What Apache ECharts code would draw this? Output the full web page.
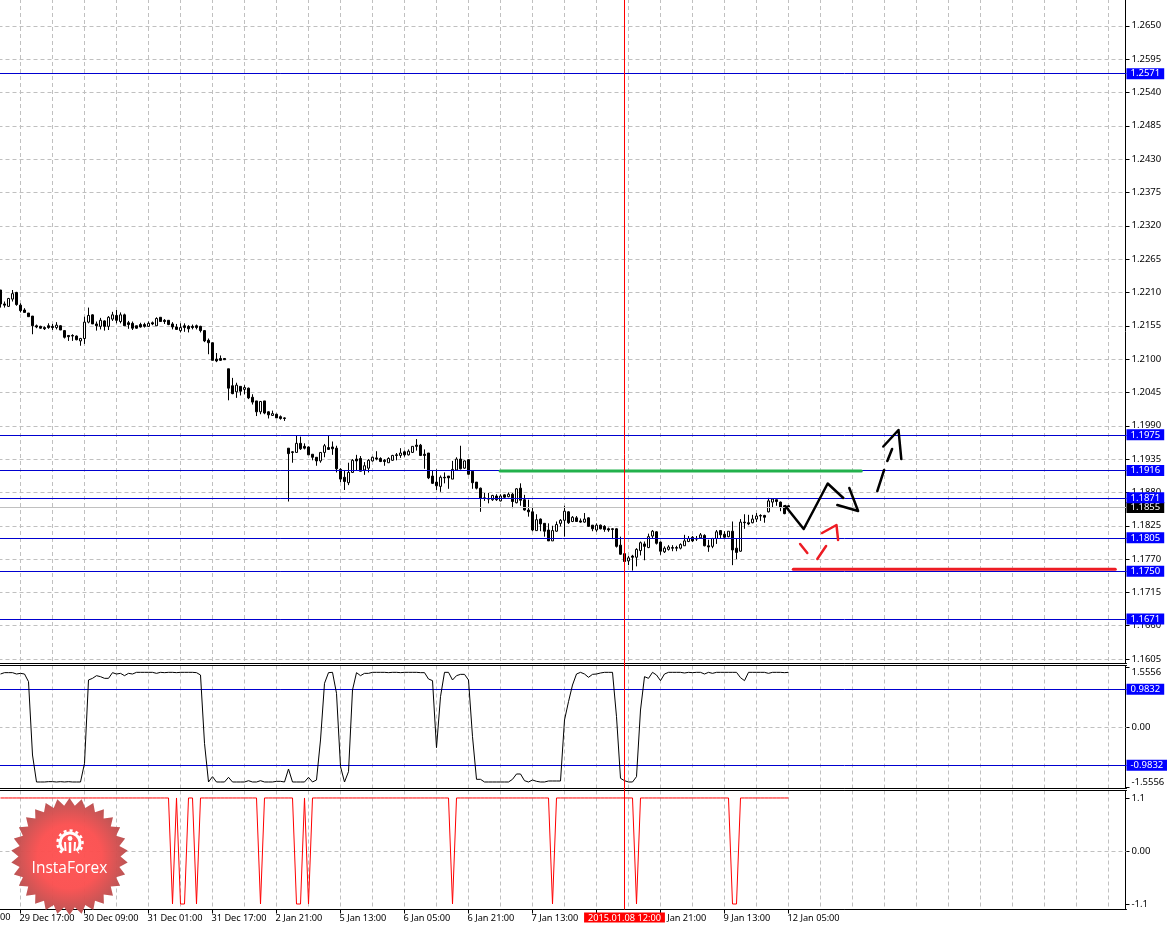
<!DOCTYPE html>
<html><head><meta charset="utf-8">
<style>html,body{margin:0;padding:0;background:#fff;overflow:hidden}#c{width:1167px;height:927px}</style>
<script src="https://cdn.jsdelivr.net/npm/echarts@6/dist/echarts.min.js"></script>
</head><body><div id="c"></div>
<script>
// candle rows: [open, close, low, high], one row per bar, hourly
const candlesDec = [
[1.2214,1.2191,1.2185,1.2214],[1.2191,1.2189,1.2185,1.2195],[1.2187,1.2200,1.2186,1.2201],[1.2199,1.2208,1.2195,1.2214],[1.2210,1.2190,1.2188,1.2211],
[1.2189,1.2180,1.2177,1.2192],[1.2181,1.2177,1.2177,1.2184],[1.2176,1.2170,1.2170,1.2176],[1.2171,1.2155,1.2141,1.2171],[1.2155,1.2153,1.2151,1.2157],
[1.2154,1.2151,1.2150,1.2155],[1.2152,1.2150,1.2148,1.2154],[1.2155,1.2152,1.2150,1.2159],[1.2154,1.2152,1.2148,1.2158],[1.2152,1.2156,1.2149,1.2161],
[1.2155,1.2148,1.2148,1.2156],[1.2147,1.2136,1.2134,1.2148],[1.2139,1.2137,1.2130,1.2139],[1.2139,1.2138,1.2130,1.2141],[1.2138,1.2132,1.2131,1.2139],
[1.2130,1.2134,1.2122,1.2135],[1.2134,1.2161,1.2125,1.2170],[1.2161,1.2172,1.2159,1.2185],[1.2173,1.2158,1.2158,1.2174],[1.2158,1.2155,1.2147,1.2162],
[1.2154,1.2164,1.2149,1.2168],[1.2163,1.2154,1.2147,1.2164],[1.2154,1.2169,1.2148,1.2171],[1.2166,1.2173,1.2163,1.2178],[1.2172,1.2164,1.2159,1.2181],
[1.2162,1.2173,1.2159,1.2177],[1.2173,1.2155,1.2155,1.2175],[1.2160,1.2157,1.2150,1.2163],[1.2159,1.2151,1.2148,1.2162],[1.2155,1.2151,1.2150,1.2155],
[1.2157,1.2153,1.2152,1.2160],[1.2157,1.2154,1.2152,1.2160],[1.2154,1.2159,1.2153,1.2162],[1.2160,1.2158,1.2156,1.2162],[1.2155,1.2167,1.2155,1.2169],
[1.2169,1.2162,1.2162,1.2169],[1.2164,1.2162,1.2158,1.2166],[1.2164,1.2157,1.2156,1.2164],[1.2158,1.2153,1.2149,1.2161],[1.2153,1.2149,1.2148,1.2158],
[1.2147,1.2152,1.2144,1.2159],[1.2155,1.2152,1.2145,1.2159],[1.2154,1.2150,1.2144,1.2156],[1.2154,1.2152,1.2149,1.2157],[1.2155,1.2152,1.2149,1.2157],
[1.2154,1.2147,1.2144,1.2155],[1.2147,1.2130,1.2128,1.2148],[1.2131,1.2127,1.2108,1.2134],[1.2127,1.2098,1.2098,1.2127],[1.2100,1.2097,1.2095,1.2110],
[1.2101,1.2098,1.2097,1.2106],[1.2101,1.2099,1.2099,1.2101],[1.2084,1.2052,1.2032,1.2084],[1.2056,1.2043,1.2042,1.2069],[1.2046,1.2057,1.2036,1.2061],
[1.2055,1.2047,1.2040,1.2055],[1.2050,1.2053,1.2042,1.2057],[1.2052,1.2036,1.2034,1.2053],[1.2037,1.2029,1.2025,1.2042],[1.2031,1.2013,1.2006,1.2031],
[1.2013,1.2030,1.2009,1.2031],[1.2031,1.2011,1.2009,1.2031],[1.2013,1.2008,1.2002,1.2014],[1.2007,1.2010,1.2007,1.2015],[1.2009,1.2003,1.2003,1.2010],
[1.2005,1.2002,1.2000,1.2007],[1.2003,1.2002,1.1998,1.2004]
];
const candlesJanA = [
[1.1953,1.1944,1.1865,1.1953],[1.1947,1.1946,1.1929,1.1948],[1.1946,1.1961,1.1946,1.1974],[1.1961,1.1952,1.1950,1.1972],[1.1956,1.1953,1.1951,1.1961],
[1.1955,1.1942,1.1942,1.1956],[1.1943,1.1938,1.1933,1.1943],[1.1938,1.1932,1.1924,1.1938],[1.1932,1.1946,1.1929,1.1946],[1.1946,1.1957,1.1938,1.1960],
[1.1954,1.1951,1.1950,1.1974],[1.1955,1.1952,1.1942,1.1964],[1.1953,1.1919,1.1913,1.1957],[1.1918,1.1902,1.1897,1.1920],[1.1905,1.1898,1.1884,1.1917],
[1.1896,1.1913,1.1892,1.1929],[1.1913,1.1933,1.1912,1.1935],[1.1935,1.1932,1.1916,1.1942],[1.1936,1.1915,1.1915,1.1940],[1.1917,1.1924,1.1909,1.1930],
[1.1920,1.1933,1.1913,1.1935],[1.1932,1.1938,1.1931,1.1939],[1.1937,1.1935,1.1933,1.1948],[1.1936,1.1931,1.1930,1.1938],[1.1933,1.1931,1.1924,1.1935],
[1.1929,1.1936,1.1929,1.1938],[1.1933,1.1941,1.1932,1.1942],[1.1942,1.1941,1.1933,1.1945],[1.1941,1.1945,1.1937,1.1953],[1.1947,1.1942,1.1939,1.1949],
[1.1942,1.1948,1.1941,1.1951],[1.1946,1.1956,1.1945,1.1956],[1.1958,1.1956,1.1949,1.1968],[1.1958,1.1941,1.1940,1.1960],[1.1943,1.1941,1.1919,1.1951],
[1.1945,1.1904,1.1902,1.1945],[1.1907,1.1895,1.1894,1.1917],[1.1897,1.1891,1.1884,1.1918],[1.1890,1.1905,1.1881,1.1908],[1.1905,1.1904,1.1895,1.1913],
[1.1907,1.1904,1.1886,1.1907],[1.1902,1.1918,1.1902,1.1932],[1.1917,1.1935,1.1917,1.1938],[1.1935,1.1919,1.1918,1.1957],[1.1920,1.1932,1.1919,1.1933],
[1.1934,1.1910,1.1909,1.1935],[1.1915,1.1896,1.1886,1.1916],[1.1897,1.1887,1.1885,1.1897],[1.1887,1.1870,1.1848,1.1888],[1.1871,1.1870,1.1866,1.1879],
[1.1870,1.1869,1.1862,1.1879],[1.1868,1.1875,1.1866,1.1876],[1.1874,1.1868,1.1866,1.1877],[1.1866,1.1874,1.1865,1.1877],[1.1876,1.1872,1.1871,1.1877],
[1.1873,1.1877,1.1872,1.1880],[1.1877,1.1865,1.1854,1.1879],[1.1863,1.1886,1.1862,1.1887],[1.1887,1.1867,1.1858,1.1895],[1.1868,1.1851,1.1850,1.1876],
[1.1851,1.1848,1.1840,1.1868]
];
const candlesJanB = [
[1.1848,1.1818,1.1816,1.1855],[1.1817,1.1835,1.1817,1.1844],[1.1836,1.1828,1.1816,1.1837],[1.1829,1.1816,1.1807,1.1829],[1.1818,1.1800,1.1800,1.1829],
[1.1800,1.1817,1.1800,1.1825],[1.1816,1.1827,1.1815,1.1832],[1.1829,1.1834,1.1824,1.1836],[1.1834,1.1849,1.1807,1.1858],[1.1848,1.1830,1.1828,1.1849],
[1.1832,1.1839,1.1831,1.1841],[1.1838,1.1832,1.1832,1.1841],[1.1833,1.1831,1.1830,1.1837],[1.1831,1.1836,1.1830,1.1846],[1.1838,1.1824,1.1823,1.1839],
[1.1826,1.1820,1.1816,1.1826],[1.1818,1.1826,1.1815,1.1829],[1.1826,1.1820,1.1819,1.1827],[1.1824,1.1819,1.1815,1.1826],[1.1820,1.1818,1.1815,1.1822],
[1.1820,1.1819,1.1803,1.1821],[1.1820,1.1791,1.1789,1.1821],[1.1793,1.1778,1.1777,1.1807],[1.1779,1.1766,1.1758,1.1779],[1.1767,1.1772,1.1760,1.1775],
[1.1775,1.1773,1.1751,1.1777],[1.1773,1.1786,1.1758,1.1788],[1.1784,1.1797,1.1776,1.1799],[1.1795,1.1791,1.1768,1.1799],[1.1789,1.1807,1.1788,1.1812],
[1.1808,1.1816,1.1804,1.1818],[1.1815,1.1796,1.1794,1.1816],[1.1798,1.1783,1.1777,1.1799],[1.1782,1.1788,1.1780,1.1791],[1.1786,1.1790,1.1784,1.1793],
[1.1789,1.1788,1.1783,1.1793],[1.1789,1.1788,1.1783,1.1792],[1.1788,1.1794,1.1786,1.1796],[1.1792,1.1800,1.1792,1.1810],[1.1799,1.1804,1.1798,1.1808],
[1.1806,1.1800,1.1798,1.1808],[1.1804,1.1803,1.1800,1.1808],[1.1805,1.1810,1.1804,1.1813],[1.1809,1.1792,1.1791,1.1811],[1.1792,1.1790,1.1782,1.1802],
[1.1791,1.1804,1.1788,1.1805],[1.1804,1.1815,1.1795,1.1818],[1.1817,1.1810,1.1804,1.1818],[1.1811,1.1806,1.1803,1.1816],[1.1807,1.1816,1.1806,1.1816],
[1.1816,1.1785,1.1760,1.1832],[1.1788,1.1781,1.1770,1.1804],[1.1783,1.1831,1.1782,1.1836],[1.1831,1.1830,1.1820,1.1844],[1.1830,1.1828,1.1826,1.1843],
[1.1830,1.1836,1.1829,1.1843],[1.1836,1.1841,1.1831,1.1846],[1.1842,1.1841,1.1833,1.1844],[1.1842,1.1839,1.1830,1.1843],[1.1848,1.1866,1.1847,1.1871],
[1.1864,1.1869,1.1855,1.1869],[1.1868,1.1865,1.1858,1.1868],[1.1864,1.1855,1.1849,1.1865],[1.1858,1.1845,1.1844,1.1858],[1.1858,1.1855,1.1852,1.1859]
];
const oscillator = [
1.379,1.414,1.414,1.414,1.379,1.396,1.379,1.181,-0.717,-1.415,
-1.415,-1.415,-1.406,-1.406,-1.415,-1.406,-1.415,-1.406,-1.415,-1.415,
-1.415,-0.932,1.224,1.267,1.336,1.310,1.267,1.267,1.414,1.379,
1.396,1.336,1.396,1.379,1.422,1.422,1.422,1.422,1.422,1.396,
1.422,1.414,1.422,1.422,1.414,1.422,1.422,1.422,1.422,1.414,
1.353,-0.415,-1.415,-1.277,-1.415,-1.415,-1.415,-1.294,-1.415,-1.415,
-1.415,-1.415,-1.381,-1.415,-1.415,-1.381,-1.415,-1.415,-1.415,-1.398,
-1.398,-1.415,-1.079,-1.415,-1.415,-1.415,-1.415,-1.294,-1.415,-1.363,
-0.328,1.138,1.414,1.422,0.879,-1.018,-1.415,-1.148,0.965,1.414,
1.336,1.396,1.396,1.422,1.422,1.422,1.422,1.414,1.422,1.422,
1.414,1.422,1.422,1.422,1.422,1.414,1.414,1.250,1.207,-0.527,
0.793,1.422,1.422,1.224,1.336,1.370,1.370,1.224,-0.242,-1.346,
-1.346,-1.415,-1.415,-1.415,-1.415,-1.415,-1.415,-1.415,-1.346,-1.208,
-1.208,-1.381,-1.415,-1.363,-1.398,-1.415,-1.415,-1.389,-1.389,-1.389,
-1.389,0.189,0.663,1.094,1.379,1.422,1.379,1.293,1.370,1.379,
1.405,1.422,1.422,1.422,0.275,-1.320,-1.381,-1.415,-1.415,-1.277,
0.448,1.310,1.267,1.422,1.353,1.207,1.379,1.422,1.422,1.422,
1.422,1.405,1.422,1.414,1.422,1.422,1.379,1.422,1.396,1.422,
1.422,1.422,1.422,1.422,1.422,1.284,1.207,1.422,1.422,1.422,
1.422,1.422,1.396,1.422,1.422,1.422,1.414,1.422
];
// bars where the lower indicator sits at -1.1 (it is +1.1 on every other bar)
const lowSignalBars = [43,45,46,49,65,74,75,77,113,138,159,183,184];
const signalHigh = 1.1, signalLow = -1.1;

const priceTicks = [1.1605,1.1660,1.1715,1.1770,1.1825,1.1880,1.1935,1.1990,1.2045,1.2100,1.2155,1.2210,1.2265,1.2320,1.2375,1.2430,1.2485,1.2540,1.2595,1.2650];
const oscTicks = [-1.5556,0,1.5556];
const signalTicks = [-1.1,0,1.1];
const timeLabels = ['29 Dec 17:00','30 Dec 09:00','31 Dec 01:00','31 Dec 17:00','2 Jan 21:00','5 Jan 13:00','6 Jan 05:00','6 Jan 21:00','7 Jan 13:00','8 Jan 05:00','8 Jan 21:00','9 Jan 13:00','12 Jan 05:00'];
const priceLevels = [1.2571,1.1975,1.1916,1.1871,1.1805,1.1750,1.1671];
const lastPrice = 1.1855;
const oscLevels = [0.9832,-0.9832];
const crosshairBar = 156;
const crosshairLabel = '2015.01.08 12:00';

// hand-drawn strokes: [bar position, price]
const strokeGreen = [[124.9,1.19153],[215.2,1.19153]];
const strokeRedLine = [[198.2,1.17531],[278.7,1.17531]];
const strokeBlackZig = [[196.2,1.18576],[200.8,1.18196],[206.8,1.18947],[210.7,1.18708]];
const strokeBlackHead = [[212.2,1.18873],[214.4,1.18493],[209.2,1.18592]];
const strokeBlackDash1 = [[219.2,1.18823],[220.9,1.1917]];
const strokeBlackDash2 = [[221.7,1.19318],[222.9,1.19517]];
const strokeBlackHead2 = [[220.7,1.19558],[224.5,1.1983],[225.2,1.19351]];
const strokeRed1 = [[199.9,1.17949],[201.7,1.178]];
const strokeRed2 = [[204.2,1.17701],[206.4,1.17916]];
const strokeRed3 = [[205.4,1.1813],[209,1.18262],[209.4,1.18015]];

const BAR_COUNT = 282, FIRST_TICK = 5, LABEL_STEP = 16, GRID_STEP = 8;
const lastLabelBar = FIRST_TICK + LABEL_STEP*(timeLabels.length-1);
const categories = Array.from({length:BAR_COUNT},(_,i)=>{
  const n=(i-FIRST_TICK)/LABEL_STEP; return Number.isInteger(n)&&timeLabels[n]?timeLabels[n]:'';
});
const rows = candlesDec.concat(candlesJanA,candlesJanB);
const signal = rows.map((_,i)=>lowSignalBars.includes(i)?signalLow:signalHigh);

const FONT='"Noto Sans"', FS=9.5, FSX=9.2, GRIDC='#c0c0c0', BLUE='#0000d0';
const gridLine={show:true,alignWithLabel:true,interval:i=>(i-FIRST_TICK)%GRID_STEP===0&&i>=FIRST_TICK,lineStyle:{color:GRIDC,type:[4,3],width:1}};
const L=-1.5,W=1128;
function catAxis(g,withLabels,pos){
  return {type:'category',gridIndex:g,data:categories,position:pos||'bottom',boundaryGap:true,
    axisLine:{show:true,onZero:false,lineStyle:{color:'#000',width:1}},
    axisTick:{show:withLabels,alignWithLabel:true,length:4,lineStyle:{color:'#000'},interval:i=>(i-FIRST_TICK)%LABEL_STEP===0&&i>=FIRST_TICK&&i<=lastLabelBar},
    axisLabel:{show:withLabels,interval:i=>categories[i]!=='',align:'left',color:'#000',fontFamily:FONT,fontSize:FSX,margin:4,padding:[0,0,0,-1],hideOverlap:false},
    splitLine:pos?{show:false}:gridLine};
}
function valAxis(g,min,max,ticks,fmt,extra){
  return {type:'value',gridIndex:g,position:'right',offset:-1,min,max,scale:true,
    axisLine:{show:true,onZero:false,lineStyle:{color:'#000',width:1}},
    axisTick:{show:true,length:4,customValues:ticks,lineStyle:{color:'#000'}},
    axisLabel:Object.assign({customValues:ticks,color:'#000',fontFamily:FONT,fontSize:FS,margin:6,formatter:fmt,showMinLabel:true,showMaxLabel:true,hideOverlap:false},extra||{}),
    splitLine:{show:false}};
}
function strokeSeries(d,color,w){
  return {type:'line',xAxisIndex:1,yAxisIndex:0,data:d,showSymbol:false,symbol:'none',z:6,animation:false,silent:true,
    lineStyle:{color,width:w,cap:'round',join:'round'}};
}
function levelLine(v,text,bg,color,w){
  return {yAxis:v,lineStyle:{color,width:w||1,type:'solid'},
    label:{show:true,position:'end',formatter:text,backgroundColor:bg,color:'#fff',padding:[1,4,0,4],distance:0,fontFamily:FONT,fontSize:FS}};
}
const mainAxis=valAxis(0,1.15977,1.26942,priceTicks,v=>v.toFixed(4));
mainAxis.splitLine={show:true,lineStyle:{color:GRIDC,type:[4,3],width:1}};
const option={
  animation:false,backgroundColor:'#fff',
  grid:[
    {left:L,width:W,top:-1,height:664.5,outerBoundsMode:'none'},
    {left:L,width:W,top:665.5,height:122.5,outerBoundsMode:'none'},
    {left:L,width:W,top:790.5,height:119,outerBoundsMode:'none'},
    {left:L,width:W,top:-1,height:910.5,outerBoundsMode:'none'}
  ],
  xAxis:[
    catAxis(0,false),
    {type:'value',gridIndex:0,min:-0.5,max:281.5,position:'top',show:false},
    catAxis(1,false),
    catAxis(2,true),
    {type:'category',gridIndex:3,data:categories,show:false},
    catAxis(1,false,'top'),
    catAxis(2,false,'top')
  ],
  yAxis:[
    mainAxis,
    valAxis(1,-1.5705,1.599,oscTicks,v=>v===0?'0.00':v.toFixed(4),{verticalAlignMinLabel:'bottom',verticalAlignMaxLabel:'top'}),
    valAxis(2,-1.214,1.255,signalTicks,v=>v===0?'0.00':v.toFixed(1)),
    {type:'value',gridIndex:3,min:0,max:1,show:false}
  ],
  series:[
    {type:'candlestick',xAxisIndex:0,yAxisIndex:0,data:rows,barWidth:3,z:3,
      itemStyle:{color:'#fff',color0:'#000',borderColor:'#000',borderColor0:'#000',borderWidth:1},
      markLine:{silent:true,symbol:'none',animation:false,precision:4,z:4,data:[
        levelLine(lastPrice,lastPrice.toFixed(4),'#000',GRIDC),
        ...priceLevels.map(v=>levelLine(v,v.toFixed(4),'#0000ff',BLUE))
      ]}},
    strokeSeries(strokeGreen,'#22b14c',3),
    strokeSeries(strokeRedLine,'#ed1c24',3),
    strokeSeries(strokeBlackZig,'#000',2.5),
    strokeSeries(strokeBlackHead,'#000',2.5),
    strokeSeries(strokeBlackDash1,'#000',2.5),
    strokeSeries(strokeBlackDash2,'#000',2.5),
    strokeSeries(strokeBlackHead2,'#000',2.5),
    strokeSeries(strokeRed1,'#ed1c24',2.5),
    strokeSeries(strokeRed2,'#ed1c24',2.5),
    strokeSeries(strokeRed3,'#ed1c24',2.5),
    {type:'line',xAxisIndex:2,yAxisIndex:1,data:oscillator,showSymbol:false,symbol:'none',lineStyle:{color:'#000',width:1},z:3,
      markLine:{silent:true,symbol:'none',animation:false,precision:4,z:2,data:[
        {yAxis:0,lineStyle:{color:GRIDC,type:[4,3],width:1},label:{show:false}},
        ...oscLevels.map(v=>levelLine(v,v.toFixed(4),'#0000ff',BLUE))
      ]}},
    {type:'line',xAxisIndex:3,yAxisIndex:2,data:signal,showSymbol:false,symbol:'none',lineStyle:{color:'#ff0000',width:1},z:3,
      markLine:{silent:true,symbol:'none',animation:false,z:2,data:[
        {yAxis:0,lineStyle:{color:GRIDC,type:[4,3],width:1},label:{show:false}}
      ]}},
    {type:'line',xAxisIndex:4,yAxisIndex:3,data:[],z:7,
      markLine:{silent:true,symbol:'none',animation:false,z:7,data:[
        {xAxis:crosshairBar,lineStyle:{color:'#ff0000',width:1,type:'solid'},
         label:{show:true,position:'start',formatter:crosshairLabel,backgroundColor:'#ff0000',color:'#fff',padding:[1,4,0,4],distance:3,fontFamily:FONT,fontSize:FSX}}
      ]}}
  ],
  graphic:[]
};
// decorative brand badge and the clipped label at the left edge
(function(){
  const cx=69.5,cy=856.5,n=30,R=58.5,r=51,pts=[];
  for(let i=0;i<n*2;i++){const a=Math.PI*i/n-Math.PI/2,q=i%2?r:R;pts.push([cx+q*Math.cos(a),cy+q*Math.sin(a)]);}
  const g=[
   {type:'polygon',z:50,shape:{points:pts},style:{fill:{type:'radial',x:0.5,y:0.5,r:0.5,colorStops:[{offset:0,color:'#ff5252'},{offset:0.55,color:'#fb5050'},{offset:1,color:'#b95050'}]},opacity:0.97}},
   {type:'arc',z:51,shape:{cx:70,cy:843,r:10,startAngle:Math.PI*0.72,endAngle:Math.PI*0.28},style:{stroke:'#fff',fill:null,lineWidth:3}},
   {type:'arc',z:51,shape:{cx:70,cy:843,r:12.5,startAngle:Math.PI*0.72,endAngle:Math.PI*0.28},style:{stroke:'#fff',fill:null,lineWidth:2.5,lineDash:[3,3]}},
   {type:'circle',z:51,shape:{cx:70,cy:838.5,r:2.4},style:{fill:'#fff'}},
   {type:'line',z:51,shape:{x1:70,y1:842,x2:70,y2:853},style:{stroke:'#fff',lineWidth:2.5}},
   {type:'line',z:51,shape:{x1:65,y1:842,x2:65.5,y2:851},style:{stroke:'#fff',lineWidth:2}},
   {type:'line',z:51,shape:{x1:75,y1:842,x2:74.5,y2:851},style:{stroke:'#fff',lineWidth:2}},
   {type:'text',z:51,x:69.5,y:869,style:{text:'InstaForex',fill:'#fff',font:'15.5px "Open Sans"',textAlign:'center',textVerticalAlign:'middle'}},
   {type:'text',z:1,x:0,y:917,style:{text:'00',fill:'#000',font:FSX+'px '+FONT,textAlign:'left',textVerticalAlign:'middle'}}
  ];
  option.graphic=g;
})();
echarts.init(document.getElementById('c'),null,{renderer:'canvas'}).setOption(option);
</script></body></html>
